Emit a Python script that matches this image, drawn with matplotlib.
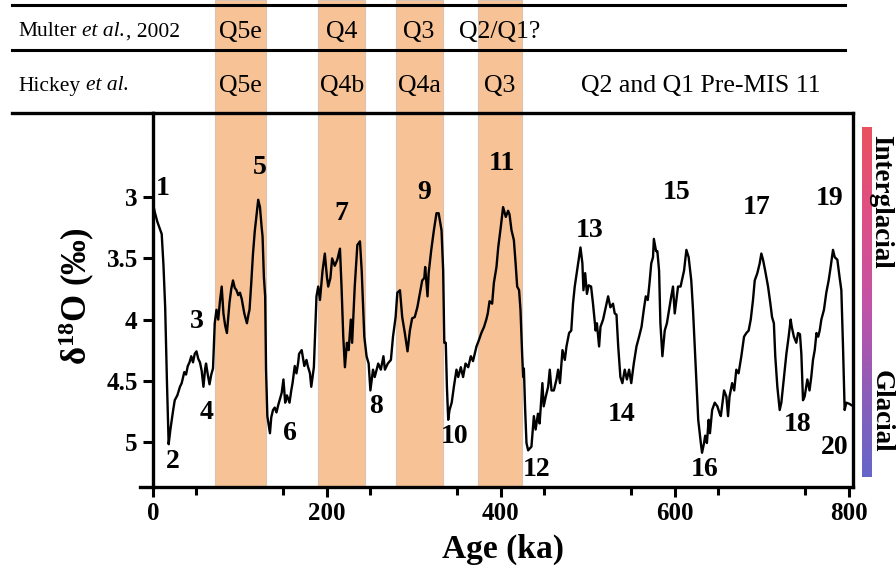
import numpy as np
import matplotlib
matplotlib.use("Agg")
import matplotlib.pyplot as plt
from matplotlib.colors import LinearSegmentedColormap
from matplotlib.lines import Line2D
from matplotlib.transforms import blended_transform_factory

plt.rcParams["font.family"] = ["Liberation Serif", "DejaVu Serif"]
plt.rcParams["mathtext.default"] = "regular"

# ---- benthic d18O record (ka, per mil) ----
age_ka = [
    0, 2, 5, 8, 10, 12, 14, 16, 18, 20, 23, 25, 28, 31, 33, 36, 38, 40, 42, 44,
    46, 48, 50, 52, 54, 56, 58, 60, 61, 63, 65, 67, 69, 71, 73, 75, 77, 79, 81, 83,
    85, 87, 88, 90, 92, 94, 96, 98, 100, 102, 105, 108, 110, 111, 113, 115, 117, 119, 121, 123,
    125, 126, 127.5, 129, 130, 131.5, 134.5, 136, 138, 140, 142, 144, 146, 148, 150, 152, 154, 157, 159, 160.5,
    163, 165, 167, 168, 171, 174, 176.5, 178, 180.5, 182, 185, 188, 190, 192, 195, 197.6, 200,
    201.5, 204, 206, 209, 212, 215, 216.8, 218.8, 220.7, 223, 225, 227.5, 229, 232, 235, 238, 240, 243, 245.6, 248,
    250, 253, 255, 259, 262, 265, 266.7, 270, 273.6, 276, 279, 281, 284, 286.6, 289.6, 292.7, 295.4, 298, 301, 304,
    307, 309.6, 312, 313, 315.7, 317, 320, 323, 326, 328.5, 331.8, 333.7, 335, 336.7, 338, 339.5, 341, 343.5, 346, 349,
    351, 354, 356.6, 359.4, 362.5, 365.5, 368, 372, 374.7, 377.6, 380.7, 383.3, 385, 387, 390, 392, 395, 397, 400, 402.6,
    405.7, 408.4, 410, 412.3, 415, 417, 418.8, 421, 422.6, 424.5, 425.7, 426.5, 428, 429.5, 431.4, 435.2, 438, 440, 442.7, 444.6,
    447.8, 449.3, 451.7, 454.4, 456.3, 458.3, 461, 464, 465.9, 468, 470.9, 473.6, 475.5, 478.5, 481, 483, 485, 487.7, 490, 491.6,
    493.8, 495, 497, 499, 501, 503.8, 506, 509, 510.5, 513, 514.6, 517.6, 520.7, 523.4, 526, 529, 531, 533, 535, 537.5,
    539.8, 542.5, 545, 547.5, 550, 552.9, 556, 559, 561.8, 564.4, 566.7, 569, 571, 573, 575, 576, 578.5, 580, 582, 583.5,
    585.8, 588.5, 591, 593.5, 596, 598, 600, 603.8, 606.7, 610.7, 613.4, 616, 619, 621, 623, 625, 627, 630, 631.4, 633.7,
    635, 637, 639, 640.5, 643, 646, 649, 651.7, 653, 656.7, 659.4, 661.3, 663, 666, 668.4, 670.8, 673.4, 676.6, 679.7, 682.4,
    685, 687.4, 690, 692, 695, 697.7, 699.6, 701.5, 704, 707.3, 710, 711.9, 714, 715.6, 718, 720.7, 722.6, 725.7, 728.4, 731,
    733.3, 734.6, 737, 739.8, 741.8, 744, 745.6, 747.5, 749.4, 752.5, 755, 757, 759, 761, 763, 765, 766.7, 768.6, 771.6, 774.3,
    777, 779.3, 782, 784, 787, 789.5, 791.6, 793.5, 795.4, 797.3, 801, 803,
]
d18o = [
    3.05, 3.12, 3.20, 3.26, 3.30, 3.55, 3.90, 4.50, 5.02, 4.90, 4.75, 4.66, 4.62, 4.55, 4.52, 4.43, 4.45, 4.38, 4.35, 4.30,
    4.35, 4.28, 4.26, 4.32, 4.35, 4.42, 4.55, 4.40, 4.36, 4.45, 4.53, 4.45, 4.40, 4.03, 3.92, 4.00, 3.85, 3.73, 3.95, 4.05,
    4.11, 3.95, 3.86, 3.75, 3.68, 3.74, 3.76, 3.80, 3.78, 3.83, 3.95, 4.03, 3.95, 3.92, 3.70, 3.46, 3.28, 3.15, 3.02, 3.08,
    3.25, 3.32, 3.65, 3.81, 4.41, 4.79, 4.93, 4.80, 4.74, 4.72, 4.76, 4.70, 4.65, 4.60, 4.49, 4.68, 4.62, 4.68, 4.58, 4.52,
    4.38, 4.44, 4.35, 4.28, 4.25, 4.38, 4.33, 4.38, 4.44, 4.55, 4.39, 3.81, 3.73, 3.84, 3.60, 3.46, 3.65,
    3.73, 3.66, 3.50, 3.56, 3.51, 3.42, 3.73, 4.14, 4.39, 4.19, 4.25, 4.00, 4.19, 3.73, 3.39, 3.36, 3.60, 4.14, 4.30, 4.36,
    4.58, 4.41, 4.47, 4.36, 4.41, 4.30, 4.41, 4.36, 4.33, 4.14, 3.98, 3.78, 3.76, 3.98, 4.11, 4.26, 4.09, 3.99, 3.98, 3.90,
    3.78, 3.68, 3.66, 3.57, 3.81, 3.62, 3.43, 3.27, 3.13, 3.13, 3.27, 3.60, 4.19, 4.19, 4.55, 4.82, 4.74, 4.68, 4.55, 4.41,
    4.47, 4.39, 4.47, 4.36, 4.39, 4.30, 4.34, 4.22, 4.17, 4.11, 4.06, 4.00, 3.95, 3.85, 3.87, 3.70, 3.57, 3.41, 3.24, 3.08,
    3.16, 3.11, 3.14, 3.27, 3.35, 3.54, 3.73, 3.76, 3.92, 4.28, 4.47, 4.40, 4.74, 5.01, 5.07, 5.04, 4.79, 4.90, 4.77, 4.85,
    4.52, 4.71, 4.63, 4.55, 4.41, 4.58, 4.58, 4.49, 4.41, 4.52, 4.25, 4.33, 4.22, 4.11, 4.09, 3.87, 3.73, 3.60, 3.49, 3.41,
    3.54, 3.76, 3.62, 3.79, 3.72, 3.73, 3.87, 4.09, 4.03, 4.22, 4.06, 4.00, 3.90, 3.81, 3.90, 3.87, 3.95, 3.96, 4.22, 4.47,
    4.52, 4.41, 4.49, 4.41, 4.52, 4.36, 4.22, 4.14, 4.06, 3.92, 3.81, 3.84, 3.70, 3.54, 3.49, 3.34, 3.44, 3.44, 3.60, 4.03,
    4.30, 4.09, 4.03, 3.92, 3.81, 3.73, 3.95, 3.73, 3.73, 3.60, 3.43, 3.49, 3.68, 3.92, 4.22, 4.52, 4.82, 5.01, 5.09, 5.01,
    4.95, 5.01, 4.82, 4.93, 4.74, 4.68, 4.71, 4.77, 4.79, 4.58, 4.63, 4.79, 4.63, 4.52, 4.58, 4.41, 4.44, 4.30, 4.14, 4.11,
    4.09, 4.00, 3.84, 3.68, 3.62, 3.54, 3.46, 3.51, 3.60, 3.73, 3.87, 3.98, 4.03, 4.30, 4.55, 4.74, 4.68, 4.47, 4.28, 4.14,
    4.00, 4.06, 4.14, 4.19, 4.11, 4.12, 4.28, 4.66, 4.63, 4.49, 4.58, 4.47, 4.33, 4.25, 4.11, 4.14, 4.09, 4.00, 3.92, 3.78,
    3.68, 3.57, 3.43, 3.49, 3.51, 3.65, 3.76, 4.22, 4.74, 4.68, 4.69, 4.70,
]

# marine isotope stage numbers and where they are written
stage_numbers = [str(n) for n in range(1, 21)]
stage_label_age = [11.5, 23, 50.5, 62, 123, 157.5, 217, 257, 311.5, 347,
                   401, 441, 502, 539, 602, 634.5, 694, 741, 778, 784]
stage_label_d18o = [2.93, 5.16, 4.02, 4.76, 2.76, 4.93, 3.13, 4.71, 2.96, 4.96,
                    2.72, 5.23, 3.27, 4.78, 2.96, 5.23, 3.08, 4.86, 3.01, 5.05]

# terrace correlation intervals (ka) and their names
band_start = [71, 190, 279, 374]
band_end = [130, 244, 333, 424]
multer_labels = ["Q5e", "Q4", "Q3", "Q2/Q1?"]
hickey_labels = ["Q5e", "Q4b", "Q4a", "Q3"]
# each row title: (plain, italic, plain) pieces
row_titles = [("Multer", "et al.", ", 2002"), ("Hickey", "et al.", "")]
pre_mis11_label = "Q2 and Q1 Pre-MIS 11"
pre_mis11_age = 630

x_ticks = [0, 200, 400, 600, 800]
y_ticks = [3, 3.5, 4, 4.5, 5]
y_tick_labels = ["3", "3.5", "4", "4.5", "5"]

W, H = 896, 574
fig = plt.figure(figsize=(W / 100, H / 100), dpi=100)
ax_l, ax_r, ax_t, ax_b = 153, 853, 113, 487
ax = fig.add_axes([ax_l / W, 1 - ax_b / H, (ax_r - ax_l) / W, (ax_b - ax_t) / H])

band_color = "#F7C396"
top_frac = 1 + ax_t / (ax_b - ax_t)
for s, e in zip(band_start, band_end):
    ax.axvspan(s, e, ymin=0, ymax=top_frac, facecolor=band_color,
               edgecolor="#d8c3b4", linewidth=0.8, clip_on=False, zorder=0.5)

ax.plot(age_ka, d18o, color="black", linewidth=1.7, zorder=3)

for lab, xa, ya in zip(stage_numbers, stage_label_age, stage_label_d18o):
    ax.text(xa, ya, lab, fontsize=20, fontweight="bold", ha="center", va="center", zorder=4)

ax.set_xlim(0, 805)
ax.set_ylim(5.37, 2.31)
ax.set_xticks(x_ticks)
ax.set_xticks(np.arange(50, 801, 100), minor=True)
ax.set_yticks(y_ticks)
ax.set_yticklabels(y_tick_labels)
ax.tick_params(axis="both", which="major", direction="out", length=7, width=2.2,
               labelsize=18, pad=4)
ax.tick_params(axis="x", which="minor", direction="out", length=6, width=2.2)
for lab in ax.get_xticklabels() + ax.get_yticklabels():
    lab.set_fontweight("bold")
for sp in ax.spines.values():
    sp.set_linewidth(2.4)

ax.set_xlabel("Age (ka)", fontsize=24, fontweight="bold")
ax.xaxis.set_label_coords(0.5, -0.125)
ax.set_ylabel("δ$^{18}$O (‰)", fontsize=25, fontweight="bold")
ax.yaxis.set_label_coords(-0.08, 0.51)

# correlation table above the record
x0, x1 = 12 / W, 845 / W
for yp, lw in [(5, 2.2), (50, 2.2)]:
    fig.add_artist(Line2D([x0, x1], [1 - yp / H, 1 - yp / H], color="black", linewidth=lw))
fig.add_artist(Line2D([x0, ax_l / W], [1 - ax_t / H, 1 - ax_t / H], color="black", linewidth=2.4))
fig.add_artist(Line2D([140 / W, ax_l / W], [1 - ax_b / H, 1 - ax_b / H], color="black", linewidth=2.4))

row_y = [1 - 32 / H, 1 - 86 / H]
for (plain, ital, tail), yy in zip(row_titles, row_y):
    t1 = fig.text(18 / W, yy, plain, fontsize=15.5, ha="left", va="center")
    t2 = ax.annotate(ital, xy=(1, 0), xycoords=t1, xytext=(3.9, 0),
                     textcoords="offset points", fontsize=15.5, style="italic",
                     ha="left", va="bottom", annotation_clip=False)
    if tail:
        ax.annotate(tail, xy=(1, 0), xycoords=t2, xytext=(0.5, 0),
                    textcoords="offset points", fontsize=15.5,
                    ha="left", va="bottom", annotation_clip=False)

trans = blended_transform_factory(ax.transData, fig.transFigure)
for s, e, m, h in zip(band_start, band_end, multer_labels, hickey_labels):
    c = (s + e) / 2
    ax.text(c, row_y[0], m, transform=trans, fontsize=18.5, ha="center", va="center", clip_on=False)
    ax.text(c, row_y[1], h, transform=trans, fontsize=18.5, ha="center", va="center", clip_on=False)
ax.text(pre_mis11_age, row_y[1], pre_mis11_label, transform=trans, fontsize=18.5,
        ha="center", va="center", clip_on=False)

# interglacial / glacial colour scale
cmap = LinearSegmentedColormap.from_list(
    "climate", ["#E9525E", "#DE4F86", "#C452A6", "#8E5DB8", "#6566C9"])
cax = fig.add_axes([862 / W, 1 - 477 / H, 10 / W, 350 / H])
cax.imshow(np.linspace(0, 1, 256)[:, None], aspect="auto", cmap=cmap)
cax.set_axis_off()
fig.text(881 / W, 1 - 202 / H, "Interglacial", rotation=-90, fontsize=19.5,
         fontweight="bold", ha="center", va="center")
fig.text(881 / W, 1 - 411 / H, "Glacial", rotation=-90, fontsize=19.5,
         fontweight="bold", ha="center", va="center")

fig.savefig("out.png", dpi=100)
